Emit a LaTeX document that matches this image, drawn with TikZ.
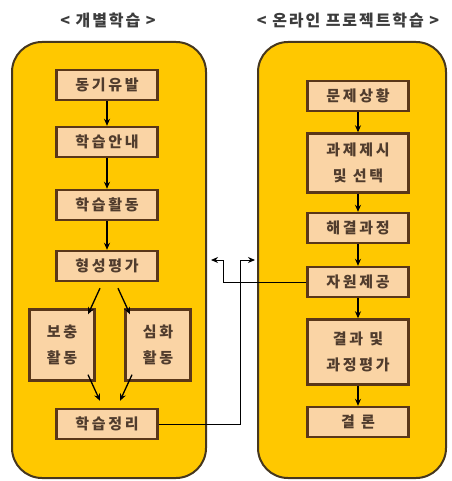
\documentclass[tikz,border=0pt]{standalone}
\usepackage{fontspec}
\newfontfamily\kr{Noto Sans CJK KR}[LetterSpace=18]
\newfontfamily\krt{Noto Sans CJK KR}[LetterSpace=12]
\usetikzlibrary{arrows.meta}
\definecolor{panelY}{RGB}{255,200,0}
\definecolor{panelB}{RGB}{70,55,30}
\definecolor{boxF}{RGB}{250,212,165}
\definecolor{boxB}{RGB}{90,55,25}
\definecolor{txt}{RGB}{80,60,45}
\definecolor{ttl}{RGB}{60,60,60}
\tikzset{
  panel/.style={draw=panelB, line width=2pt, fill=panelY, rounded corners=30pt},
  stepbox/.style={draw=boxB, line width=2.4pt, fill=boxF, text=txt, font=\kr\bfseries\fontsize{15}{26}\selectfont, minimum width=101pt, minimum height=30pt, inner sep=0pt, align=center},
  smallbox/.style={stepbox, minimum width=65pt, minimum height=71pt},
  titletext/.style={text=ttl, font=\krt\bfseries\fontsize{16}{18}\selectfont, inner sep=0pt},
  flow/.style={draw=black, line width=1.3pt, -{Stealth[length=7pt,width=6pt]}},
  link/.style={draw=black, line width=1pt, -{Stealth[length=7pt,width=6pt]}}
}
\begin{document}
\begin{tikzpicture}[x=1pt,y=-1pt]
\useasboundingbox (0,0) rectangle (451,481);
\node[titletext] (t1) at (108,20) {< 개별학습 >};
\node[titletext] (t2) at (348,20) {< 온라인 프로젝트학습 >};
\draw[panel] (12,42) rectangle (206,478);
\draw[panel] (258,42) rectangle (446,478);
% left column
\node[stepbox] (a1) at (107,85) {동기유발};
\node[stepbox] (a2) at (107,142) {학습안내};
\node[stepbox] (a3) at (107,205) {학습활동};
\node[stepbox] (a4) at (107,266) {형성평가};
\node[smallbox] (a5) at (62,345) {보충\\활동};
\node[smallbox] (a6) at (158,345) {심화\\활동};
\node[stepbox] (a7) at (107,424) {학습정리};
\draw[flow] (a1) -- (a2);
\draw[flow] (a2) -- (a3);
\draw[flow] (a3) -- (a4);
\draw[flow] ([xshift=-7pt,yshift=-6pt]a4.south) -- ([xshift=26pt,yshift=-6pt]a5.north);
\draw[flow] ([xshift=11pt,yshift=-6pt]a4.south) -- ([xshift=-28pt,yshift=-6pt]a6.north);
\draw[flow] ([xshift=26pt,yshift=7pt]a5.south) -- ([xshift=-7pt,yshift=7pt]a7.north);
\draw[flow] ([xshift=-26pt,yshift=7pt]a6.south) -- ([xshift=13pt,yshift=7pt]a7.north);
% right column
\node[stepbox] (b1) at (358,96) {문제상황};
\node[stepbox, minimum height=59pt] (b2) at (358,163) {과제제시\\및 선택};
\node[stepbox] (b3) at (358,228) {해결과정};
\node[stepbox] (b4) at (358,282) {자원제공};
\node[stepbox, minimum height=65pt] (b5) at (358,352) {결과 및\\과정평가};
\node[stepbox] (b6) at (358,422) {결 론};
\draw[flow] (b1) -- (b2);
\draw[flow] (b2) -- (b3);
\draw[flow] (b3) -- (b4);
\draw[flow] (b4) -- (b5);
\draw[flow] (b5) -- (b6);
% cross links
\coordinate (tipL) at (211,260);
\coordinate (tipR) at (255,260);
\draw[link] (b4.west) -| (223,260) -- (tipL);
\draw[link] (a7.east) -| (240,260) -- (tipR);
\end{tikzpicture}
\end{document}
